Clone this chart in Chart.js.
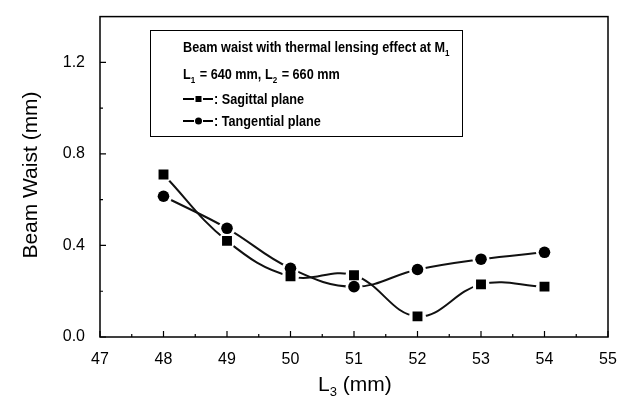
<!DOCTYPE html>
<html><head><meta charset="utf-8">
<script src="https://cdn.jsdelivr.net/npm/chart.js@4/dist/chart.umd.min.js"></script>
<style>html,body{margin:0;padding:0;background:#fff}#wrap{width:630px;height:409px}</style>
</head><body><div id="wrap"><canvas id="c" width="630" height="409"></canvas></div>
<script>
const L3 = [48, 49, 50, 51, 52, 53, 54];
const sagittal = [0.71, 0.42, 0.265, 0.27, 0.09, 0.23, 0.22];
const tangential = [0.615, 0.475, 0.30, 0.22, 0.295, 0.34, 0.37];
const xTicks = [47, 48, 49, 50, 51, 52, 53, 54, 55];
const xMinor = [47.5, 48.5, 49.5, 50.5, 51.5, 52.5, 53.5, 54.5];
const yTicks = [0.0, 0.4, 0.8, 1.2];
const yMinor = [0.2, 0.6, 1.0];
const yTitle = "Beam Waist (mm)";
const xTitle = ["L", "3", " (mm)"];
const legendTitle = ["Beam waist with thermal lensing effect at M", "1"];
const legendLine2 = ["L", "1", " = 640 mm, L", "2", " = 660 mm"];
const seriesNames = [": Sagittal plane", ": Tangential plane"];

const pts = arr => L3.map((x, i) => ({x: x, y: arr[i]}));
const FONT = 'Arial, "Liberation Sans", sans-serif';

const deco = {
  id: 'deco',
  afterDraw(chart) {
    const ctx = chart.ctx, a = chart.chartArea;
    const xs = chart.scales.x, ys = chart.scales.y;
    ctx.save();
    ctx.strokeStyle = '#000'; ctx.fillStyle = '#000';
    // frame
    ctx.lineWidth = 1.5;
    ctx.strokeRect(a.left, a.top, a.right - a.left, a.bottom - a.top);
    // ticks inward
    ctx.lineWidth = 1.2;
    ctx.beginPath();
    xTicks.forEach(v => { const p = xs.getPixelForValue(v); ctx.moveTo(p, a.bottom); ctx.lineTo(p, a.bottom - 6); });
    xMinor.forEach(v => { const p = xs.getPixelForValue(v); ctx.moveTo(p, a.bottom); ctx.lineTo(p, a.bottom - 3); });
    yTicks.forEach(v => { const p = ys.getPixelForValue(v); ctx.moveTo(a.left, p); ctx.lineTo(a.left + 6, p); });
    yMinor.forEach(v => { const p = ys.getPixelForValue(v); ctx.moveTo(a.left, p); ctx.lineTo(a.left + 3, p); });
    ctx.stroke();
    // y title
    ctx.save();
    ctx.translate(31, 175);
    ctx.rotate(-Math.PI / 2);
    ctx.font = '21px ' + FONT;
    ctx.textAlign = 'center'; ctx.textBaseline = 'middle';
    ctx.fillText(yTitle, 0, 0, 176);
    ctx.restore();
    // x title
    ctx.textBaseline = 'alphabetic'; ctx.textAlign = 'left';
    let x = 318;
    ctx.font = '21px ' + FONT; ctx.fillText(xTitle[0], x, 391); x += ctx.measureText(xTitle[0]).width;
    ctx.font = '13px ' + FONT; ctx.fillText(xTitle[1], x, 396); x += ctx.measureText(xTitle[1]).width;
    ctx.font = '21px ' + FONT; ctx.fillText(xTitle[2], x, 391);
    // legend box
    ctx.lineWidth = 1;
    ctx.strokeRect(150.5, 30.5, 312, 106);
    const bold = s => 'bold ' + s + 'px ' + FONT;
    const BIG = 15, SMALL = 9.5;
    ctx.font = bold(BIG);
    const cond = 262 / ctx.measureText(legendTitle[0]).width;
    const runs = (parts, x0, y) => {
      let xx = x0;
      parts.forEach((t, i) => {
        const sub = i % 2 === 1;
        ctx.font = bold(sub ? SMALL : BIG);
        const w = ctx.measureText(t).width * cond;
        ctx.fillText(t, xx, y + (sub ? 4 : 0), w);
        xx += w + (sub ? 1 : 0);
      });
    };
    runs(legendTitle, 183, 52);
    runs(legendLine2, 183, 79);
    // series samples
    const sample = (y, kind) => {
      ctx.lineWidth = 2;
      ctx.beginPath();
      ctx.moveTo(183, y); ctx.lineTo(194, y);
      ctx.moveTo(203, y); ctx.lineTo(213, y);
      ctx.stroke();
      ctx.beginPath();
      if (kind === 0) ctx.rect(195.5, y - 3, 6, 6); else ctx.arc(198.5, y, 3.5, 0, Math.PI * 2);
      ctx.fill();
    };
    sample(99, 0); sample(121, 1);
    ctx.font = bold(BIG);
    ctx.fillText(seriesNames[0], 214, 104, ctx.measureText(seriesNames[0]).width * cond);
    ctx.fillText(seriesNames[1], 214, 126, ctx.measureText(seriesNames[1]).width * cond);
    ctx.restore();
  }
};

const lineDs = (arr) => ({data: pts(arr), borderColor: '#111', borderWidth: 2, tension: 0.4, pointRadius: 0, fill: false, order: 3});
const haloDs = (arr, r) => ({data: pts(arr), showLine: false, pointRadius: r, pointStyle: 'circle', pointBackgroundColor: '#fff', pointBorderWidth: 0, order: 2});
const markDs = (arr, style, r) => ({data: pts(arr), showLine: false, pointRadius: r, pointStyle: style, pointBackgroundColor: '#000', pointBorderWidth: 0, order: 1});

new Chart(document.getElementById('c'), {
  type: 'line',
  data: {datasets: [
    lineDs(sagittal), lineDs(tangential),
    haloDs(sagittal, 8.5), haloDs(tangential, 8.5),
    markDs(sagittal, 'rect', 7), markDs(tangential, 'circle', 5.8)
  ]},
  options: {
    responsive: false, animation: false, devicePixelRatio: 1,
    layout: {padding: {top: 11, right: 22, left: 0, bottom: 0}},
    plugins: {legend: {display: false}, tooltip: {enabled: false}},
    events: [],
    scales: {
      x: {type: 'linear', min: 47, max: 55,
        afterBuildTicks: s => { s.ticks = xTicks.map(v => ({value: v})); },
        afterFit: s => { s.height = 72; },
        grid: {display: false}, border: {display: false},
        ticks: {color: '#000', font: {size: 16, family: FONT}, padding: 5, maxRotation: 0, autoSkip: false}},
      y: {type: 'linear', min: 0, max: 1.4,
        afterBuildTicks: s => { s.ticks = yTicks.map(v => ({value: v})); },
        afterFit: s => { s.width = 100; },
        grid: {display: false}, border: {display: false},
        ticks: {color: '#000', font: {size: 16, family: FONT}, padding: 7, callback: v => Number(v).toFixed(1)}}
    }
  },
  plugins: [deco]
});
</script></body></html>
